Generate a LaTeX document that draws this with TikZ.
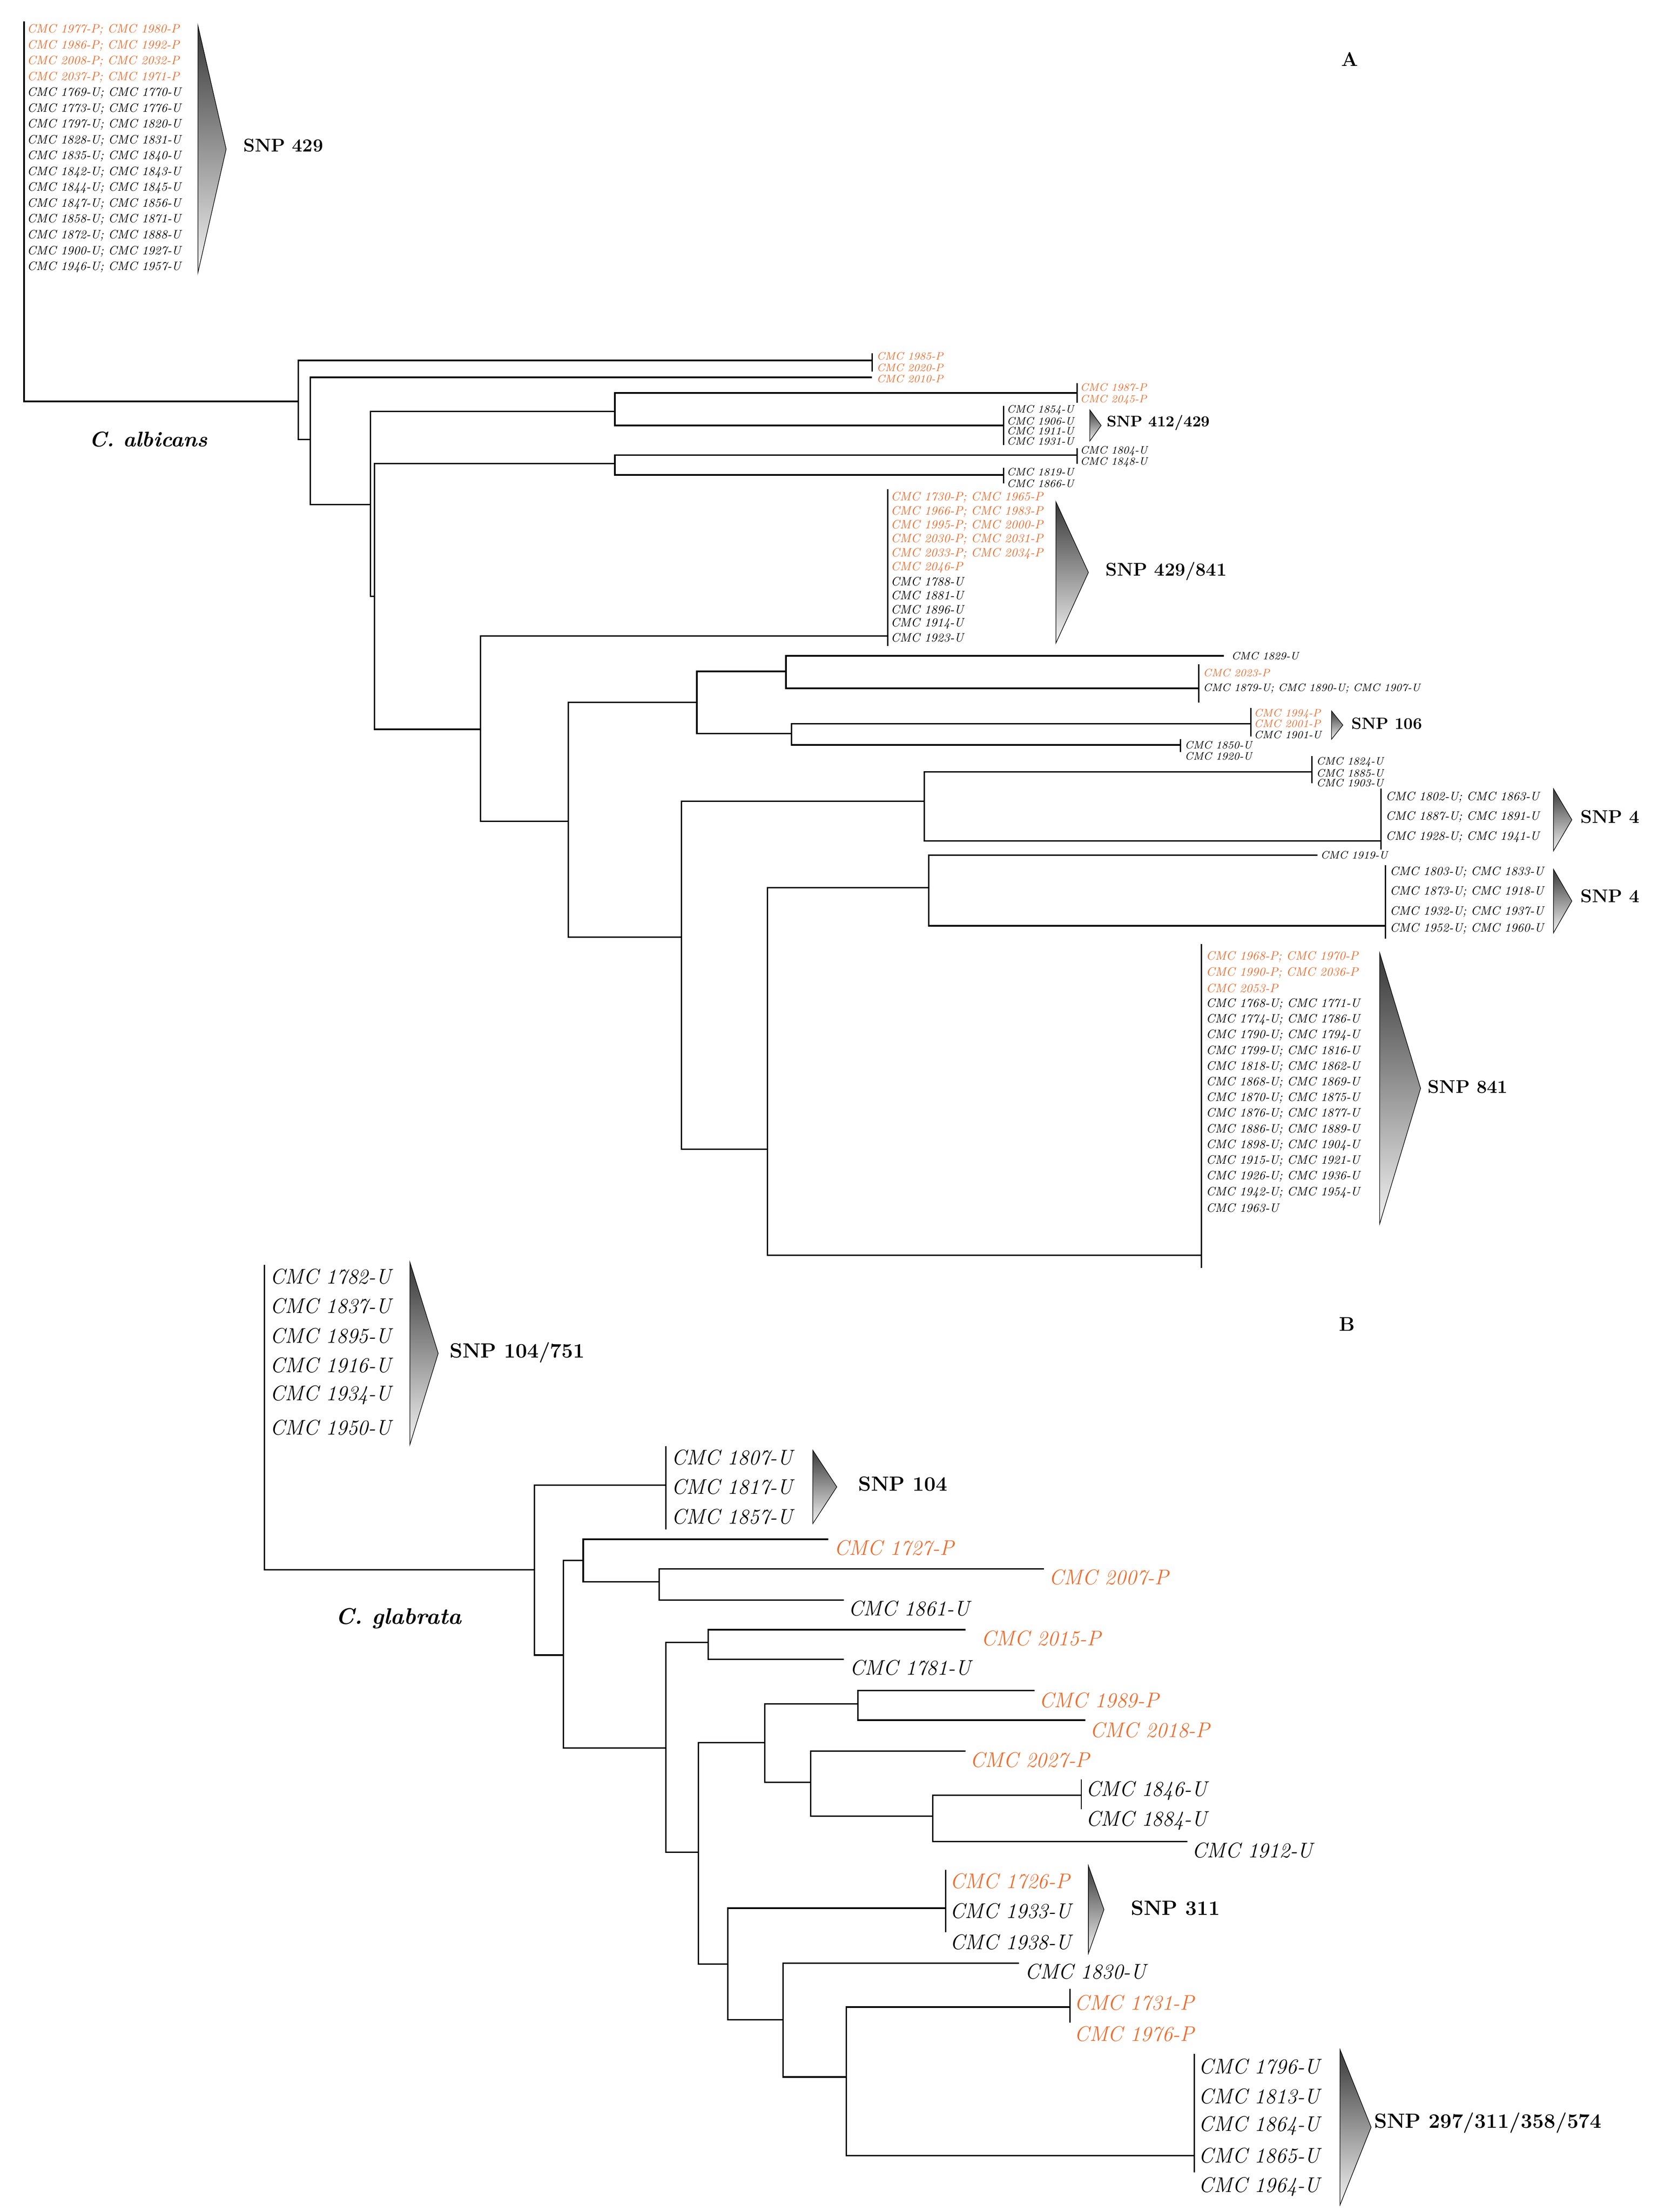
\documentclass[tikz,border=0pt]{standalone}
\usepackage{tikz}
\begin{document}
\definecolor{orP}{RGB}{236,110,48}
\tikzset{br/.style={line width=1pt,black},
 brk/.style={line width=0.9pt,black},
 la/.style={anchor=west,inner sep=0pt,font=\fontsize{8.6}{9}\selectfont\itshape},
 lc/.style={anchor=west,inner sep=0pt,font=\fontsize{7.6}{8}\selectfont\itshape},
 lb/.style={anchor=west,inner sep=0pt,font=\fontsize{15}{16}\selectfont\itshape},
 snp/.style={anchor=west,inner sep=0pt,font=\fontsize{13}{14}\selectfont\bfseries},
 snpB/.style={anchor=west,inner sep=0pt,font=\fontsize{14.5}{15}\selectfont\bfseries},
 tri/.style={top color=black!78,bottom color=black!5,draw=black,line width=0.4pt},
 P/.style={text=orP}}
\newcommand\edge[2]{\draw[br] (#1) |- (#2);}
\newcommand\snptri[4]{\shadedraw[tri] (#1,#2) -- (#4,{(#2+#3)/2}) -- (#1,#3) -- cycle;}
\newcommand\bk[3]{\draw[brk] (#1,#2) -- (#1,#3);}
\begin{tikzpicture}[x=1pt,y=-1pt]
\useasboundingbox (0,0) rectangle (1172,1565);
%%%%%%%%%%%%%%%% A
\node[font=\fontsize{14}{14}\selectfont\bfseries] (titA) at (955,42) {A};
\node[font=\fontsize{15}{15}\selectfont\bfseries\itshape] (spA) at (105,311) {C. albicans};
\coordinate (RAt) at (17,15); \coordinate (RA) at (17,284);
\coordinate (N1) at (211,284); \coordinate (N2) at (219.5,311); \coordinate (N3) at (262,357);
\coordinate (N3b) at (262,422); \coordinate (N5) at (265,422);
\coordinate (N4) at (435,291); \coordinate (N6) at (435,328); \coordinate (N7) at (340,516);
\coordinate (N8) at (402,581); \coordinate (N9) at (493,497); \coordinate (N10) at (556,475);
\coordinate (N11) at (560,519); \coordinate (N12) at (482,663); \coordinate (N13) at (654,567);
\coordinate (N14) at (543,813); \coordinate (N15) at (657,628);
\coordinate (L1985) at (617,255); \coordinate (L2010) at (617,267);
\coordinate (L1987) at (762,278); \coordinate (L1854) at (710,301);
\coordinate (L1804) at (762,322); \coordinate (L1819) at (710,336);
\coordinate (L429841) at (628,450);
\coordinate (L1829) at (866,464); \coordinate (L1879) at (848,487);
\coordinate (L106) at (885,512); \coordinate (L1850) at (835,527);
\coordinate (L1824) at (928,546); \coordinate (LS4a) at (977,595);
\coordinate (L1919) at (932,605); \coordinate (LS4b) at (980,655);
\coordinate (L841) at (850,888);
\draw[br] (RAt) -- (RA) -- (N1);
\edge{N1}{L1985}\edge{N1}{N2}
\edge{N2}{L2010}\edge{N2}{N3}
\edge{N3}{N4}\draw[br] (N3) -- (N3b) -- (N5);
\edge{N5}{N6}\edge{N5}{N7}
\edge{N4}{L1987}\edge{N4}{L1854}
\edge{N6}{L1804}\edge{N6}{L1819}
\edge{N7}{L429841}\edge{N7}{N8}
\edge{N8}{N9}\edge{N8}{N12}
\edge{N9}{N10}\edge{N9}{N11}
\edge{N10}{L1829}\edge{N10}{L1879}
\edge{N11}{L106}\edge{N11}{L1850}
\edge{N12}{N13}\edge{N12}{N14}
\edge{N13}{L1824}\edge{N13}{LS4a}
\edge{N14}{N15}\edge{N14}{L841}
\edge{N15}{L1919}\edge{N15}{LS4b}
% top group
\foreach \t [count=\i from 0] in {CMC 1977-P; CMC 1980-P,CMC 1986-P; CMC 1992-P,CMC 2008-P; CMC 2032-P,CMC 2037-P; CMC 1971-P}
 \node[la,P] at (19,21+\i*11.2) {\t};
\foreach \t [count=\i from 4] in {CMC 1769-U; CMC 1770-U,CMC 1773-U; CMC 1776-U,CMC 1797-U; CMC 1820-U,CMC 1828-U; CMC 1831-U,CMC 1835-U; CMC 1840-U,CMC 1842-U; CMC 1843-U,CMC 1844-U; CMC 1845-U,CMC 1847-U; CMC 1856-U,CMC 1858-U; CMC 1871-U,CMC 1872-U; CMC 1888-U,CMC 1900-U; CMC 1927-U,CMC 1946-U; CMC 1957-U}
 \node[la] at (19,21+\i*11.2) {\t};
\snptri{140}{18}{193}{160}
\node[snp] at (172,103) {SNP 429};
% small groups
\bk{617}{250}{263}
\node[lc,P] at (620,252) {CMC 1985-P};
\node[lc,P] at (620,260) {CMC 2020-P};
\node[lc,P] at (620,268) {CMC 2010-P};
\bk{762}{271}{285}
\node[lc,P] at (764,274) {CMC 1987-P};
\node[lc,P] at (764,283) {CMC 2045-P};
\bk{710}{287}{315}
\foreach \t/\y in {CMC 1854-U/290,CMC 1906-U/298,CMC 1911-U/305,CMC 1931-U/312}
 \node[lc] at (712,\y) {\t};
\snptri{771}{290}{312}{779}
\node[snp,font=\fontsize{10.8}{11}\selectfont\bfseries] at (783,299) {SNP 412/429};
\bk{762}{317}{328}
\node[lc] at (764,319) {CMC 1804-U};
\node[lc] at (764,327) {CMC 1848-U};
\bk{710}{331}{342}
\node[lc] at (712,334) {CMC 1819-U};
\node[lc] at (712,342) {CMC 1866-U};
% SNP 429/841
\bk{628}{346}{457}
\foreach \t [count=\i from 0] in {CMC 1730-P; CMC 1965-P,CMC 1966-P; CMC 1983-P,CMC 1995-P; CMC 2000-P,CMC 2030-P; CMC 2031-P,CMC 2033-P; CMC 2034-P,CMC 2046-P}
 \node[la] [P] at (630,352+\i*9.9) {\t};
\foreach \t [count=\i from 6] in {CMC 1788-U,CMC 1881-U,CMC 1896-U,CMC 1914-U,CMC 1923-U}
 \node[la] at (630,352+\i*9.9) {\t};
\snptri{747}{355}{455}{770}
\node[snp] at (782,404) {SNP 429/841};
\node[lc] at (871,464) {CMC 1829-U};
\bk{848}{470}{497}
\node[lc,P] at (851,476) {CMC 2023-P};
\node[lc] at (851,487) {CMC 1879-U; CMC 1890-U; CMC 1907-U};
\bk{885}{501}{521}
\node[lc,P] at (887,505) {CMC 1994-P};
\node[lc,P] at (887,512) {CMC 2001-P};
\node[lc] at (887,520) {CMC 1901-U};
\snptri{942}{503}{523}{950}
\node[snp,font=\fontsize{11.5}{12}\selectfont\bfseries] at (956,512) {SNP 106};
\bk{835}{523}{532}
\node[lc] at (838,527) {CMC 1850-U};
\node[lc] at (838,535) {CMC 1920-U};
\bk{928}{535}{554}
\node[lc] at (931,539) {CMC 1824-U};
\node[lc] at (931,547) {CMC 1885-U};
\node[lc] at (931,554) {CMC 1903-U};
\bk{977}{558}{601}
\foreach \t/\y in {CMC 1802-U; CMC 1863-U/564,CMC 1887-U; CMC 1891-U/578,CMC 1928-U; CMC 1941-U/592}
 \node[la] at (980,\y) {\t};
\snptri{1099}{558}{602}{1112}
\node[snp] at (1118,578) {SNP 4};
\node[lc] at (934,605) {CMC 1919-U};
\bk{980}{612}{664}
\foreach \t/\y in {CMC 1803-U; CMC 1833-U/617,CMC 1873-U; CMC 1918-U/631,CMC 1932-U; CMC 1937-U/645,CMC 1952-U; CMC 1960-U/657}
 \node[la] at (983,\y) {\t};
\snptri{1099}{615}{660}{1112}
\node[snp] at (1118,634) {SNP 4};
% SNP 841
\bk{850}{668}{897}
\foreach \t [count=\i from 0] in {CMC 1968-P; CMC 1970-P,CMC 1990-P; CMC 2036-P,CMC 2053-P}
 \node[la,P] at (853,677+\i*11.1) {\t};
\foreach \t [count=\i from 3] in {CMC 1768-U; CMC 1771-U,CMC 1774-U; CMC 1786-U,CMC 1790-U; CMC 1794-U,CMC 1799-U; CMC 1816-U,CMC 1818-U; CMC 1862-U,CMC 1868-U; CMC 1869-U,CMC 1870-U; CMC 1875-U,CMC 1876-U; CMC 1877-U,CMC 1886-U; CMC 1889-U,CMC 1898-U; CMC 1904-U,CMC 1915-U; CMC 1921-U,CMC 1926-U; CMC 1936-U,CMC 1942-U; CMC 1954-U,CMC 1963-U}
 \node[la] at (853,677+\i*11.1) {\t};
\snptri{976}{674}{866}{1005}
\node[snp] at (1010,769) {SNP 841};
%%%%%%%%%%%%%%%% B
\node[font=\fontsize{14}{14}\selectfont\bfseries] (titB) at (953,937) {B};
\node[font=\fontsize{16}{16}\selectfont\bfseries\itshape] (spB) at (282,1145) {C. glabrata};
\coordinate (RBt) at (187,895); \coordinate (RB) at (187,1110.5);
\coordinate (NB1) at (378,1110.5); \coordinate (NB2) at (398.7,1171);
\coordinate (NB3) at (412.6,1104); \coordinate (NB4) at (466.3,1119);
\coordinate (NB5) at (471,1236.6); \coordinate (NB6) at (501,1162);
\coordinate (NB7) at (494,1310.5); \coordinate (NB8) at (541,1233);
\coordinate (NB9) at (607,1205.5); \coordinate (NB10) at (573.6,1261);
\coordinate (NB10b) at (660,1285); \coordinate (NB11) at (515,1389.5);
\coordinate (NB12) at (554,1429); \coordinate (NB13) at (598.7,1469.5);
\coordinate (LB104) at (471,1050.8); \coordinate (L1727) at (586,1089);
\coordinate (L2007) at (738.6,1110); \coordinate (L1861) at (597,1132);
\coordinate (L2015) at (683,1153); \coordinate (L1781) at (597,1174);
\coordinate (L1989) at (732,1196); \coordinate (L2018) at (767.7,1217);
\coordinate (L2027) at (683,1239); \coordinate (LB1846) at (765,1270);
\coordinate (L1912) at (840,1303); \coordinate (LB311) at (669,1350);
\coordinate (L1830) at (721,1389); \coordinate (LB1731) at (757,1420);
\coordinate (LB297) at (845,1525);
\draw[br] (RBt) -- (RB) -- (NB1);
\edge{NB1}{LB104}\edge{NB1}{NB2}
\edge{NB2}{NB3}\edge{NB2}{NB5}
\edge{NB3}{L1727}\edge{NB3}{NB4}
\edge{NB4}{L2007}\edge{NB4}{L1861}
\edge{NB5}{NB6}\edge{NB5}{NB7}
\edge{NB6}{L2015}\edge{NB6}{L1781}
\edge{NB7}{NB8}\edge{NB7}{NB11}
\edge{NB8}{NB9}\edge{NB8}{NB10}
\edge{NB9}{L1989}\edge{NB9}{L2018}
\edge{NB10}{L2027}\edge{NB10}{NB10b}
\edge{NB10b}{LB1846}\edge{NB10b}{L1912}
\edge{NB11}{LB311}\edge{NB11}{NB12}
\edge{NB12}{L1830}\edge{NB12}{NB13}
\edge{NB13}{LB1731}\edge{NB13}{LB297}
\foreach \t/\y in {CMC 1782-U/903,CMC 1837-U/924,CMC 1895-U/945,CMC 1916-U/966,CMC 1934-U/987,CMC 1950-U/1010}
 \node[lb] at (191,\y) {\t};
\snptri{290}{893}{1022}{310}
\node[snpB] at (318,957) {SNP 104/751};
\bk{471}{1023}{1082}
\foreach \t/\y in {CMC 1807-U/1031,CMC 1817-U/1052,CMC 1857-U/1073}
 \node[lb] at (475,\y) {\t};
\snptri{575}{1026}{1078}{592}
\node[snpB] at (607,1050) {SNP 104};
\node[lb,P] at (590,1095) {CMC 1727-P};
\node[lb,P] at (742,1116) {CMC 2007-P};
\node[lb] at (600,1138) {CMC 1861-U};
\node[lb,P] at (694,1159) {CMC 2015-P};
\node[lb] at (601,1180) {CMC 1781-U};
\node[lb,P] at (735,1203) {CMC 1989-P};
\node[lb,P] at (771,1224) {CMC 2018-P};
\node[lb,P] at (686,1245) {CMC 2027-P};
\bk{765}{1259}{1280}
\node[lb] at (768,1267) {CMC 1846-U};
\node[lb] at (768,1288) {CMC 1884-U};
\node[lb] at (843,1309) {CMC 1912-U};
\bk{669}{1323}{1367}
\node[lb,P] at (672,1331) {CMC 1726-P};
\node[lb] at (672,1352) {CMC 1933-U};
\node[lb] at (672,1374) {CMC 1938-U};
\snptri{770}{1320}{1382}{781}
\node[snpB] at (800,1350) {SNP 311};
\node[lb] at (725,1395) {CMC 1830-U};
\bk{757}{1407}{1431}
\node[lb,P] at (760,1417) {CMC 1731-P};
\node[lb,P] at (760,1439) {CMC 1976-P};
\bk{845}{1453}{1537}
\foreach \t/\y in {CMC 1796-U/1462,CMC 1813-U/1483,CMC 1864-U/1504,CMC 1865-U/1525,CMC 1964-U/1547}
 \node[lb] at (848,\y) {\t};
\snptri{948}{1450}{1560}{970}
\node[snpB] at (972,1502) {SNP 297/311/358/574};
\end{tikzpicture}
\end{document}
